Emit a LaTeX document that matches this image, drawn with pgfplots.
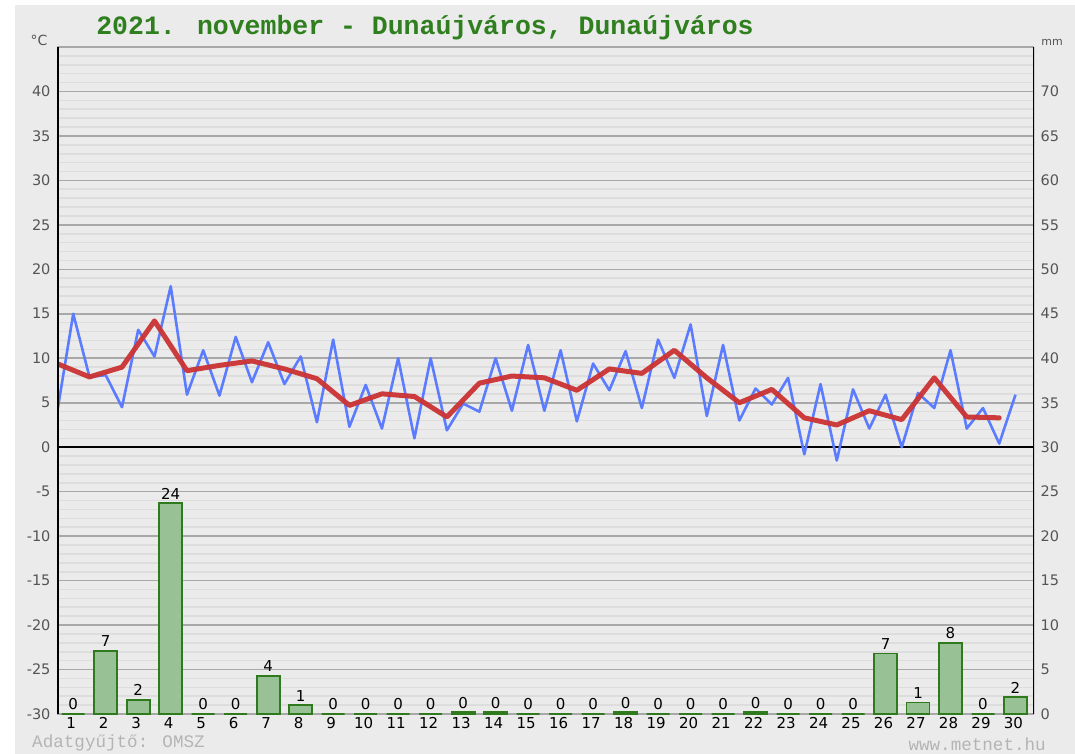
\documentclass[border=0pt]{standalone}
\usepackage{pgfplots}
\pgfplotsset{compat=1.18}
\usepackage{fontspec}
\setmainfont{DejaVu Sans}
\newfontfamily\monofont{Liberation Mono}
\definecolor{bgc}{HTML}{EBEBEB}
\definecolor{majgrid}{HTML}{A8A8A8}
\definecolor{mingrid}{HTML}{DDDDDD}
\definecolor{ticktext}{HTML}{555555}
\definecolor{bluel}{HTML}{5B7CFF}
\definecolor{redl}{HTML}{CC3333}
\definecolor{barfill}{HTML}{98C196}
\definecolor{bardraw}{HTML}{2E7A1D}
\definecolor{titlegreen}{HTML}{2F7F1F}
\definecolor{footgray}{HTML}{B4B4B4}

\pgfplotstableread{
t v
0.5 3.8
1.0 15.0
1.5 7.9
2.0 8.1
2.5 4.5
3.0 13.2
3.5 10.2
4.0 18.1
4.5 5.9
5.0 10.9
5.5 5.8
6.0 12.4
6.5 7.3
7.0 11.8
7.5 7.1
8.0 10.2
8.5 2.8
9.0 12.1
9.5 2.3
10.0 7.0
10.5 2.1
11.0 10.0
11.5 1.0
12.0 10.0
12.5 1.9
13.0 4.9
13.5 4.0
14.0 10.0
14.5 4.1
15.0 11.5
15.5 4.1
16.0 10.9
16.5 2.9
17.0 9.4
17.5 6.4
18.0 10.8
18.5 4.4
19.0 12.1
19.5 7.8
20.0 13.8
20.5 3.5
21.0 11.5
21.5 3.0
22.0 6.6
22.5 4.8
23.0 7.8
23.5 -0.8
24.0 7.1
24.5 -1.5
25.0 6.5
25.5 2.1
26.0 5.9
26.5 0.0
27.0 6.1
27.5 4.4
28.0 10.9
28.5 2.1
29.0 4.4
29.5 0.4
30.0 5.9
}\bluedata

\pgfplotstableread{
t v
0.5 9.4
1.5 7.9
2.5 9.0
3.5 14.2
4.5 8.6
5.5 9.2
6.5 9.7
7.5 8.8
8.5 7.7
9.5 4.7
10.5 6.0
11.5 5.7
12.5 3.4
13.5 7.2
14.5 8.0
15.5 7.8
16.5 6.4
17.5 8.8
18.5 8.3
19.5 10.9
20.5 7.8
21.5 5.0
22.5 6.5
23.5 3.3
24.5 2.5
25.5 4.1
26.5 3.1
27.5 7.8
28.5 3.4
29.5 3.3
}\reddata

\pgfplotstableread{
d mm lab
1 0 0
2 7.1 7
3 1.6 2
4 23.7 24
5 0 0
6 0 0
7 4.3 4
8 1.0 1
9 0 0
10 0 0
11 0 0
12 0 0
13 0.2 0
14 0.2 0
15 0 0
16 0 0
17 0 0
18 0.2 0
19 0 0
20 0 0
21 0 0
22 0.2 0
23 0 0
24 0 0
25 0 0
26 6.8 7
27 1.3 1
28 8.0 8
29 0 0
30 1.9 2
}\raindata

\begin{document}
\begin{tikzpicture}[x=1pt,y=1pt]
\useasboundingbox (0,0) rectangle (1075,754);
\fill[white] (0,0) rectangle (1075,754);
\fill[bgc] (15,0) rectangle (1075,749);

\begin{axis}[
  at={(57pt,40pt)}, anchor=south west,
  width=977pt, height=667pt, scale only axis,
  xmin=0.5, xmax=30.57, ymin=-30, ymax=45,
  /pgf/number format/assume math mode=true,
  axis line style={draw=none},
  xtick={1,...,30},
  xticklabel style={font=\fontsize{15}{15}\selectfont, text=black, xshift=-2pt},
  ytick={-30,-25,-20,-15,-10,-5,0,5,10,15,20,25,30,35,40,45},
  yticklabels={-30,-25,-20,-15,-10,-5,0,5,10,15,20,25,30,35,40,{}},
  yticklabel style={font=\fontsize{14.5}{14.5}\selectfont, text=ticktext, xshift=-3pt},
  minor y tick num=4,
  ymajorgrids, yminorgrids,
  major grid style={draw=majgrid, line width=1.6pt},
  minor grid style={draw=mingrid, line width=1.6pt},
  major tick length=0pt, minor tick length=0pt,
  tick style={draw=none},
]
\draw[black, line width=1.8pt] (axis cs:0.5,0) -- (axis cs:30.57,0);
\addplot[bluel, line width=2.6pt, line join=round, mark=none] table[x=t,y=v] {\bluedata};
\addplot[redl, line width=5pt, line join=round, line cap=round, mark=none, opacity=0.95] table[x=t,y=v] {\reddata};
\end{axis}

\begin{axis}[
  at={(57pt,40pt)}, anchor=south west,
  width=977pt, height=667pt, scale only axis,
  xmin=0.5, xmax=30.57, ymin=0, ymax=75,
  /pgf/number format/assume math mode=true,
  axis line style={draw=none},
  xtick=\empty,
  ytick={0,5,...,70},
  yticklabel pos=right,
  yticklabel style={font=\fontsize{14.5}{14.5}\selectfont, text=ticktext, anchor=west, xshift=3pt},
  major tick length=0pt, tick style={draw=none},
  ybar, bar width=23pt,
  nodes near coords,
  point meta=explicit symbolic,
  nodes near coords style={font=\fontsize{15}{15}\selectfont, text=black, anchor=south, inner sep=3pt},
]
\addplot[bar shift=0pt, fill=barfill, draw=bardraw, line width=1.8pt] table[x=d,y=mm,meta=lab] {\raindata};
\draw[black, line width=3pt] (rel axis cs:0,0) -- (rel axis cs:0,1);
\draw[black, line width=3pt] (rel axis cs:1,0) -- (rel axis cs:1,1);
\end{axis}

\node[text=titlegreen, font=\monofont\bfseries\fontsize{26.5}{26.5}\selectfont] at (425,726) {2021. november - Dunaújváros, Dunaújváros};
\node[text=ticktext, font=\fontsize{14}{14}\selectfont] at (39,714) {°C};
\node[text=ticktext, font=\fontsize{11}{11}\selectfont] at (1052,712) {mm};
\node[text=footgray, font=\monofont\fontsize{17.6}{17.6}\selectfont, anchor=west, inner sep=0pt] at (32,11) {Adatgyűjtő: OMSZ};
\node[text=footgray, font=\monofont\fontsize{17.6}{17.6}\selectfont, anchor=east, inner sep=0pt] at (1046,10) {www.metnet.hu};
\end{tikzpicture}
\end{document}
